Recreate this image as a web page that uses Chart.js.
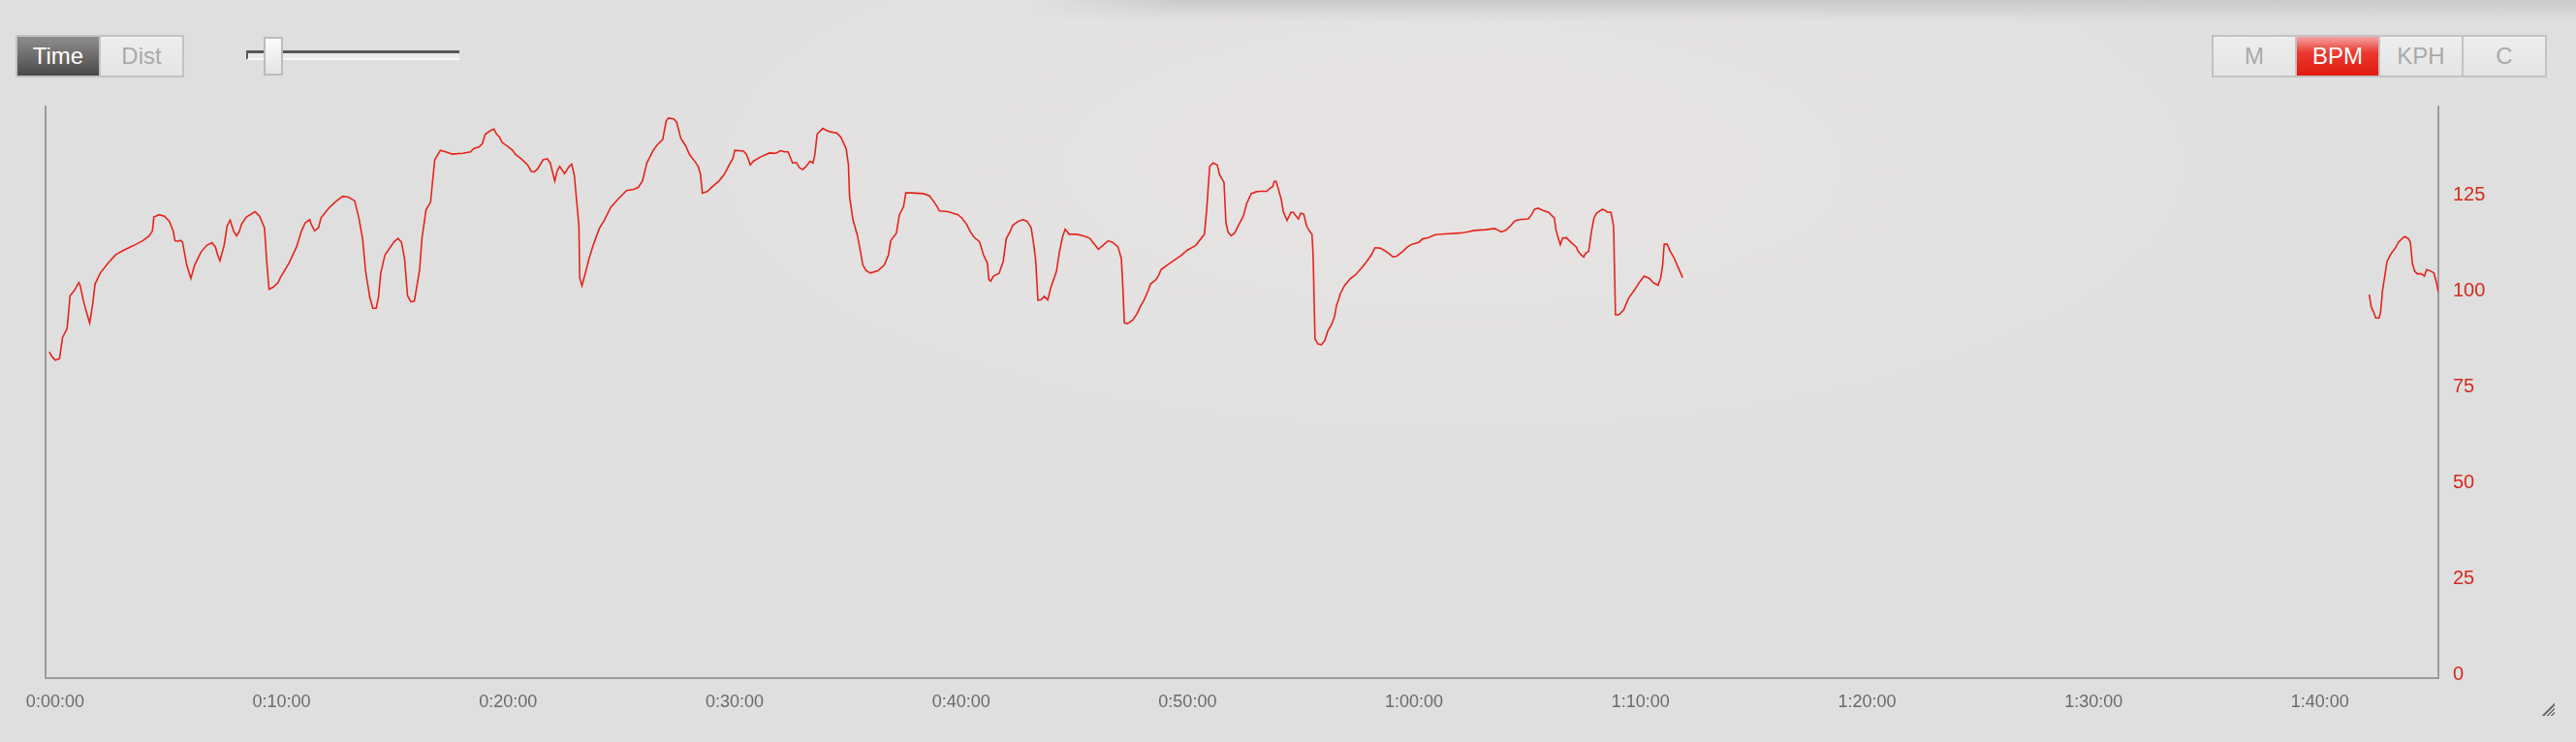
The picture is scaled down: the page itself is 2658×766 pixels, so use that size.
<!DOCTYPE html>
<html><head><meta charset="utf-8">
<script src="https://cdn.jsdelivr.net/npm/chart.js@4.4.1/dist/chart.umd.min.js"></script>
<style>
html,body{margin:0;padding:0;width:2658px;height:766px;overflow:hidden;background:#e0dfdf;font-family:"Liberation Sans",Arial,sans-serif;}
#bg{position:absolute;left:0;top:0;width:2658px;height:766px;
 background: radial-gradient(ellipse 1000px 360px at 1500px 170px, rgba(232,228,228,1) 0%, rgba(232,228,228,0) 100%), #e0dfdf;}
#shadow{position:absolute;left:1060px;top:0;width:1598px;height:22px;
 background:linear-gradient(rgba(200,198,198,0.9), rgba(224,223,223,0));
 -webkit-mask-image:linear-gradient(90deg, rgba(0,0,0,0) 0px, rgba(0,0,0,1) 160px);
 mask-image:linear-gradient(90deg, rgba(0,0,0,0) 0px, rgba(0,0,0,1) 160px);}
#c{position:absolute;left:0;top:0;}
.seg{position:absolute;top:36px;height:44px;box-sizing:border-box;border:2px solid #c4c3c3;display:flex;background:#c4c3c3;}
.seg div{height:40px;line-height:40px;text-align:center;font-size:24px;color:#aaa9a9;background:linear-gradient(#efeeee,#e5e4e4);}
.seg div + div{margin-left:2px;}
.seg .on-dark{background:linear-gradient(#8f8d8d,#4a4949);color:#fff;}
.seg .on-red{background:linear-gradient(#f4a3a3 0%,#ea3a30 40%,#e01a0e 100%);color:#fff;}
#track{position:absolute;left:254px;top:52px;width:220px;height:10px;box-sizing:border-box;border-top:3px solid #5a5959;border-left:2px solid #5a5959;border-bottom:2px solid #fafafa;background:#eaeaea;}
#thumb{position:absolute;left:272px;top:38px;width:20px;height:40px;box-sizing:border-box;border:2px solid #bdbcbc;background:linear-gradient(#fbfbfb,#e4e4e4);}
#grip{position:absolute;left:2621px;top:724px;width:15px;height:15px;
 background:repeating-linear-gradient(135deg,#6f6f6f 0 1.5px,transparent 1.5px 3px);clip-path:polygon(100% 0,100% 100%,0 100%);}
</style></head>
<body>
<div id="bg"></div>
<div id="shadow"></div>
<canvas id="c" width="2658" height="766"></canvas>
<div class="seg" style="left:16px;width:174px;"><div class="on-dark" style="width:84px">Time</div><div style="width:84px">Dist</div></div>
<div id="track"></div><div id="thumb"></div>
<div class="seg" style="left:2282px;width:346px;"><div style="width:84px">M</div><div class="on-red" style="width:84px">BPM</div><div style="width:84px">KPH</div><div style="width:84px">C</div></div>
<div id="grip"></div>
<script>
// elapsed time in seconds
const timeSec = [0,7,16,27,35,47,55,66,78,82,89,98,107,115,121,135,156,176,196,224,247,265,273,277,291,305,318,328,333,341,348,353,364,375,385,402,417,431,440,446,452,463,471,479,488,496,503,509,522,545,557,570,576,582,593,606,612,635,655,668,678,690,694,703,713,720,740,757,777,792,809,820,830,838,849,857,866,872,878,889,901,914,924,933,941,949,958,967,975,981,987,998,1010,1021,1036,1050,1067,1095,1116,1124,1139,1147,1155,1170,1178,1185,1193,1199,1216,1227,1235,1250,1267,1277,1285,1294,1308,1319,1327,1339,1345,1352,1365,1377,1384,1391,1403,1405,1411,1419,1430,1442,1457,1471,1487,1508,1529,1548,1560,1571,1583,1600,1611,1625,1634,1640,1654,1662,1673,1685,1696,1710,1719,1725,1730,1744,1753,1774,1788,1799,1811,1816,1839,1847,1857,1866,1885,1908,1925,1937,1948,1957,1969,1979,1988,1996,2005,2015,2023,2028,2034,2049,2057,2069,2086,2097,2111,2117,2120,2129,2141,2149,2155,2164,2175,2195,2212,2223,2229,2244,2252,2263,2269,2286,2315,2332,2344,2352,2358,2381,2407,2418,2430,2441,2450,2464,2475,2485,2489,2494,2501,2516,2527,2535,2546,2552,2567,2579,2590,2601,2607,2613,2619,2627,2636,2645,2653,2668,2676,2684,2691,2702,2722,2739,2756,2768,2779,2791,2805,2817,2831,2840,2844,2848,2856,2871,2882,2890,2900,2911,2917,2932,2940,2945,2968,2997,3014,3037,3060,3066,3074,3083,3094,3100,3112,3117,3123,3131,3140,3149,3163,3172,3184,3198,3207,3225,3235,3241,3245,3250,3256,3264,3269,3279,3289,3296,3302,3309,3315,3323,3331,3338,3345,3348,3353,3361,3370,3379,3387,3397,3405,3410,3415,3420,3431,3446,3461,3476,3490,3502,3512,3525,3537,3551,3559,3569,3584,3598,3610,3628,3638,3652,3672,3697,3736,3756,3775,3805,3829,3839,3846,3859,3872,3881,3893,3918,3928,3934,3944,3957,3972,3987,3991,3998,4003,4009,4019,4031,4045,4050,4058,4065,4070,4078,4085,4092,4099,4114,4121,4127,4137,4144,4149,4158,4171,4183,4198,4212,4225,4239,4249,4262,4269,4274,4278,4286,4294,4304,4314,4327,
 5200,
 6146,6151,6157,6163,6172,6176,6181,6187,6193,6204,6215,6223,6232,6240,6249,6255,6260,6266,6273,6283,6292,6298,6309,6317,6323,6329];
// heart rate (BPM); null = no recording
const bpm = [85.0,83.8,82.9,83.3,88.8,91.1,99.7,101.0,103.1,102.3,98.9,95.5,92.6,97.6,102.7,105.6,108.2,110.4,111.5,112.8,114.0,115.3,116.6,120.2,120.8,120.4,119.1,116.6,114.0,113.9,114.1,113.6,107.7,104.2,107.7,111.1,112.8,113.5,112.4,110.3,108.8,112.8,117.9,119.4,116.6,115.3,116.3,118.3,120.2,121.6,120.4,117.4,108.6,101.4,101.9,103.1,104.4,108.2,112.4,116.6,118.7,119.5,118.3,116.6,117.4,120.0,122.5,124.1,125.6,125.4,124.4,120.0,114.5,106.0,99.3,96.4,96.4,99.3,105.6,110.3,112.0,113.8,114.6,113.6,109.4,99.7,98.1,98.3,102.9,106.5,114.5,122.1,124.1,135.1,137.6,137.2,136.6,136.8,137.2,138.0,138.5,139.3,141.8,142.8,143.1,141.8,141.0,139.7,138.5,137.6,136.5,135.4,133.8,132.1,132.0,132.8,135.1,135.4,134.3,129.6,132.1,133.4,131.5,133.4,134.0,130.9,117.9,104.4,102.3,105.2,109.4,113.2,117.2,119.5,122.7,125.0,127.1,127.4,127.9,129.5,134.3,137.6,139.1,140.4,145.2,146.0,145.8,144.9,140.7,138.9,136.5,134.7,133.4,131.3,126.4,126.9,127.8,129.6,131.3,133.4,135.5,137.6,137.4,136.5,133.8,134.8,135.9,136.9,136.8,137.5,137.2,137.2,134.3,134.4,133.0,132.6,133.4,134.7,134.3,136.4,141.8,143.3,142.9,142.4,142.1,141.0,138.0,133.8,125.4,119.5,115.3,111.1,107.7,106.2,105.6,106.2,107.7,110.3,114.0,116.0,120.8,122.9,126.5,126.5,126.3,125.7,124.1,122.9,121.8,121.6,120.8,119.9,118.3,116.2,114.9,113.8,110.3,108.2,103.9,103.5,104.8,105.5,108.6,114.5,116.6,118.0,119.1,119.5,119.1,117.4,113.6,109.0,98.5,98.6,99.5,98.6,101.8,106.0,111.1,114.9,117.0,115.7,115.7,115.3,114.7,113.2,111.8,112.8,114.0,113.6,112.4,109.4,101.8,92.6,92.4,93.4,95.1,96.8,98.5,101.0,102.7,103.9,105.2,106.5,108.1,110.1,111.5,112.8,115.7,122.0,133.4,134.3,133.8,131.3,129.2,118.7,116.2,115.3,116.0,117.8,120.4,123.7,126.3,126.8,126.9,126.9,127.8,128.1,129.5,129.5,127.5,124.6,121.6,119.3,121.4,121.4,120.5,119.7,121.2,121.0,117.8,116.6,115.7,110.3,88.4,87.1,86.9,88.0,90.5,92.2,94.3,97.2,98.5,100.2,102.3,104.1,105.2,106.9,108.6,110.3,112.2,112.1,111.5,110.5,109.8,110.0,111.1,112.4,113.1,113.6,114.5,114.8,115.6,115.8,116.0,116.3,116.7,116.9,117.2,116.7,116.3,116.8,118.0,119.1,119.5,119.7,121.0,122.2,122.5,121.9,121.4,119.9,117.0,114.5,113.0,114.7,114.8,113.6,112.4,111.3,110.3,109.8,110.7,111.3,116.2,119.9,121.2,122.2,122.0,121.5,121.4,117.8,94.7,94.7,96.0,98.9,101.0,103.1,104.8,104.2,103.1,102.4,104.4,107.7,113.1,113.1,111.3,109.6,107.3,104.4,
 null,
 100.0,96.8,95.5,93.9,93.9,95.5,101.0,104.8,108.6,110.7,112.1,113.6,114.5,115.1,114.6,113.6,108.2,106.1,105.4,105.4,104.8,106.5,106.1,105.6,103.5,100.6];
// axis ticks
const xTickSec = [0,600,1200,1800,2400,3000,3600,4200,4800,5400,6000];
const yTicks = [0,25,50,75,100,125];

function fmtTime(s){
  const h = Math.floor(s/3600), m = Math.floor((s%3600)/60), sec = Math.floor(s%60);
  return h + ':' + String(m).padStart(2,'0') + ':' + String(sec).padStart(2,'0');
}

Chart.defaults.font.family = '"Liberation Sans", Arial, sans-serif';
const axisGray = '#9c9b9b';

new Chart(document.getElementById('c'), {
  type: 'line',
  data: {
    datasets: [{
      data: timeSec.map((t,i)=>({x:t, y:bpm[i]})),
      borderColor: '#e5241b',
      borderWidth: 1.6,
      pointRadius: 0,
      tension: 0,
      spanGaps: false,
      yAxisID: 'y'
    }]
  },
  options: {
    responsive: false,
    animation: false,
    events: [],
    layout: {padding: {left: 47, top: 110, right: 0, bottom: 0}},
    plugins: {legend: {display: false}, tooltip: {enabled: false}},
    scales: {
      x: {
        type: 'linear', position: 'bottom', min: -10, max: 6329,
        grid: {display: false, drawTicks: false},
        border: {display: true, color: axisGray, width: 2},
        afterBuildTicks: s => { s.ticks = xTickSec.map(v => ({value: v})); },
        afterFit: s => { s.height = 66; },
        ticks: {autoSkip: false, maxRotation: 0, minRotation: 0, padding: 14, labelOffset: 6,
          color: '#6b6a6a', font: {size: 18}, callback: v => fmtTime(v)}
      },
      y: {
        position: 'right', min: 0, max: 149,
        grid: {display: false, drawTicks: false},
        border: {display: true, color: axisGray, width: 2},
        afterBuildTicks: s => { s.ticks = yTicks.map(v => ({value: v})); },
        afterFit: s => { s.width = 142; },
        ticks: {padding: 15, labelOffset: -4, color: '#d42a1f', font: {size: 20}}
      },
      yl: {
        position: 'left', min: 0, max: 149,
        grid: {display: false, drawTicks: false},
        border: {display: true, color: axisGray, width: 2},
        ticks: {display: false},
        afterFit: s => { s.width = 0; }
      }
    }
  }
});
</script>
</body></html>
